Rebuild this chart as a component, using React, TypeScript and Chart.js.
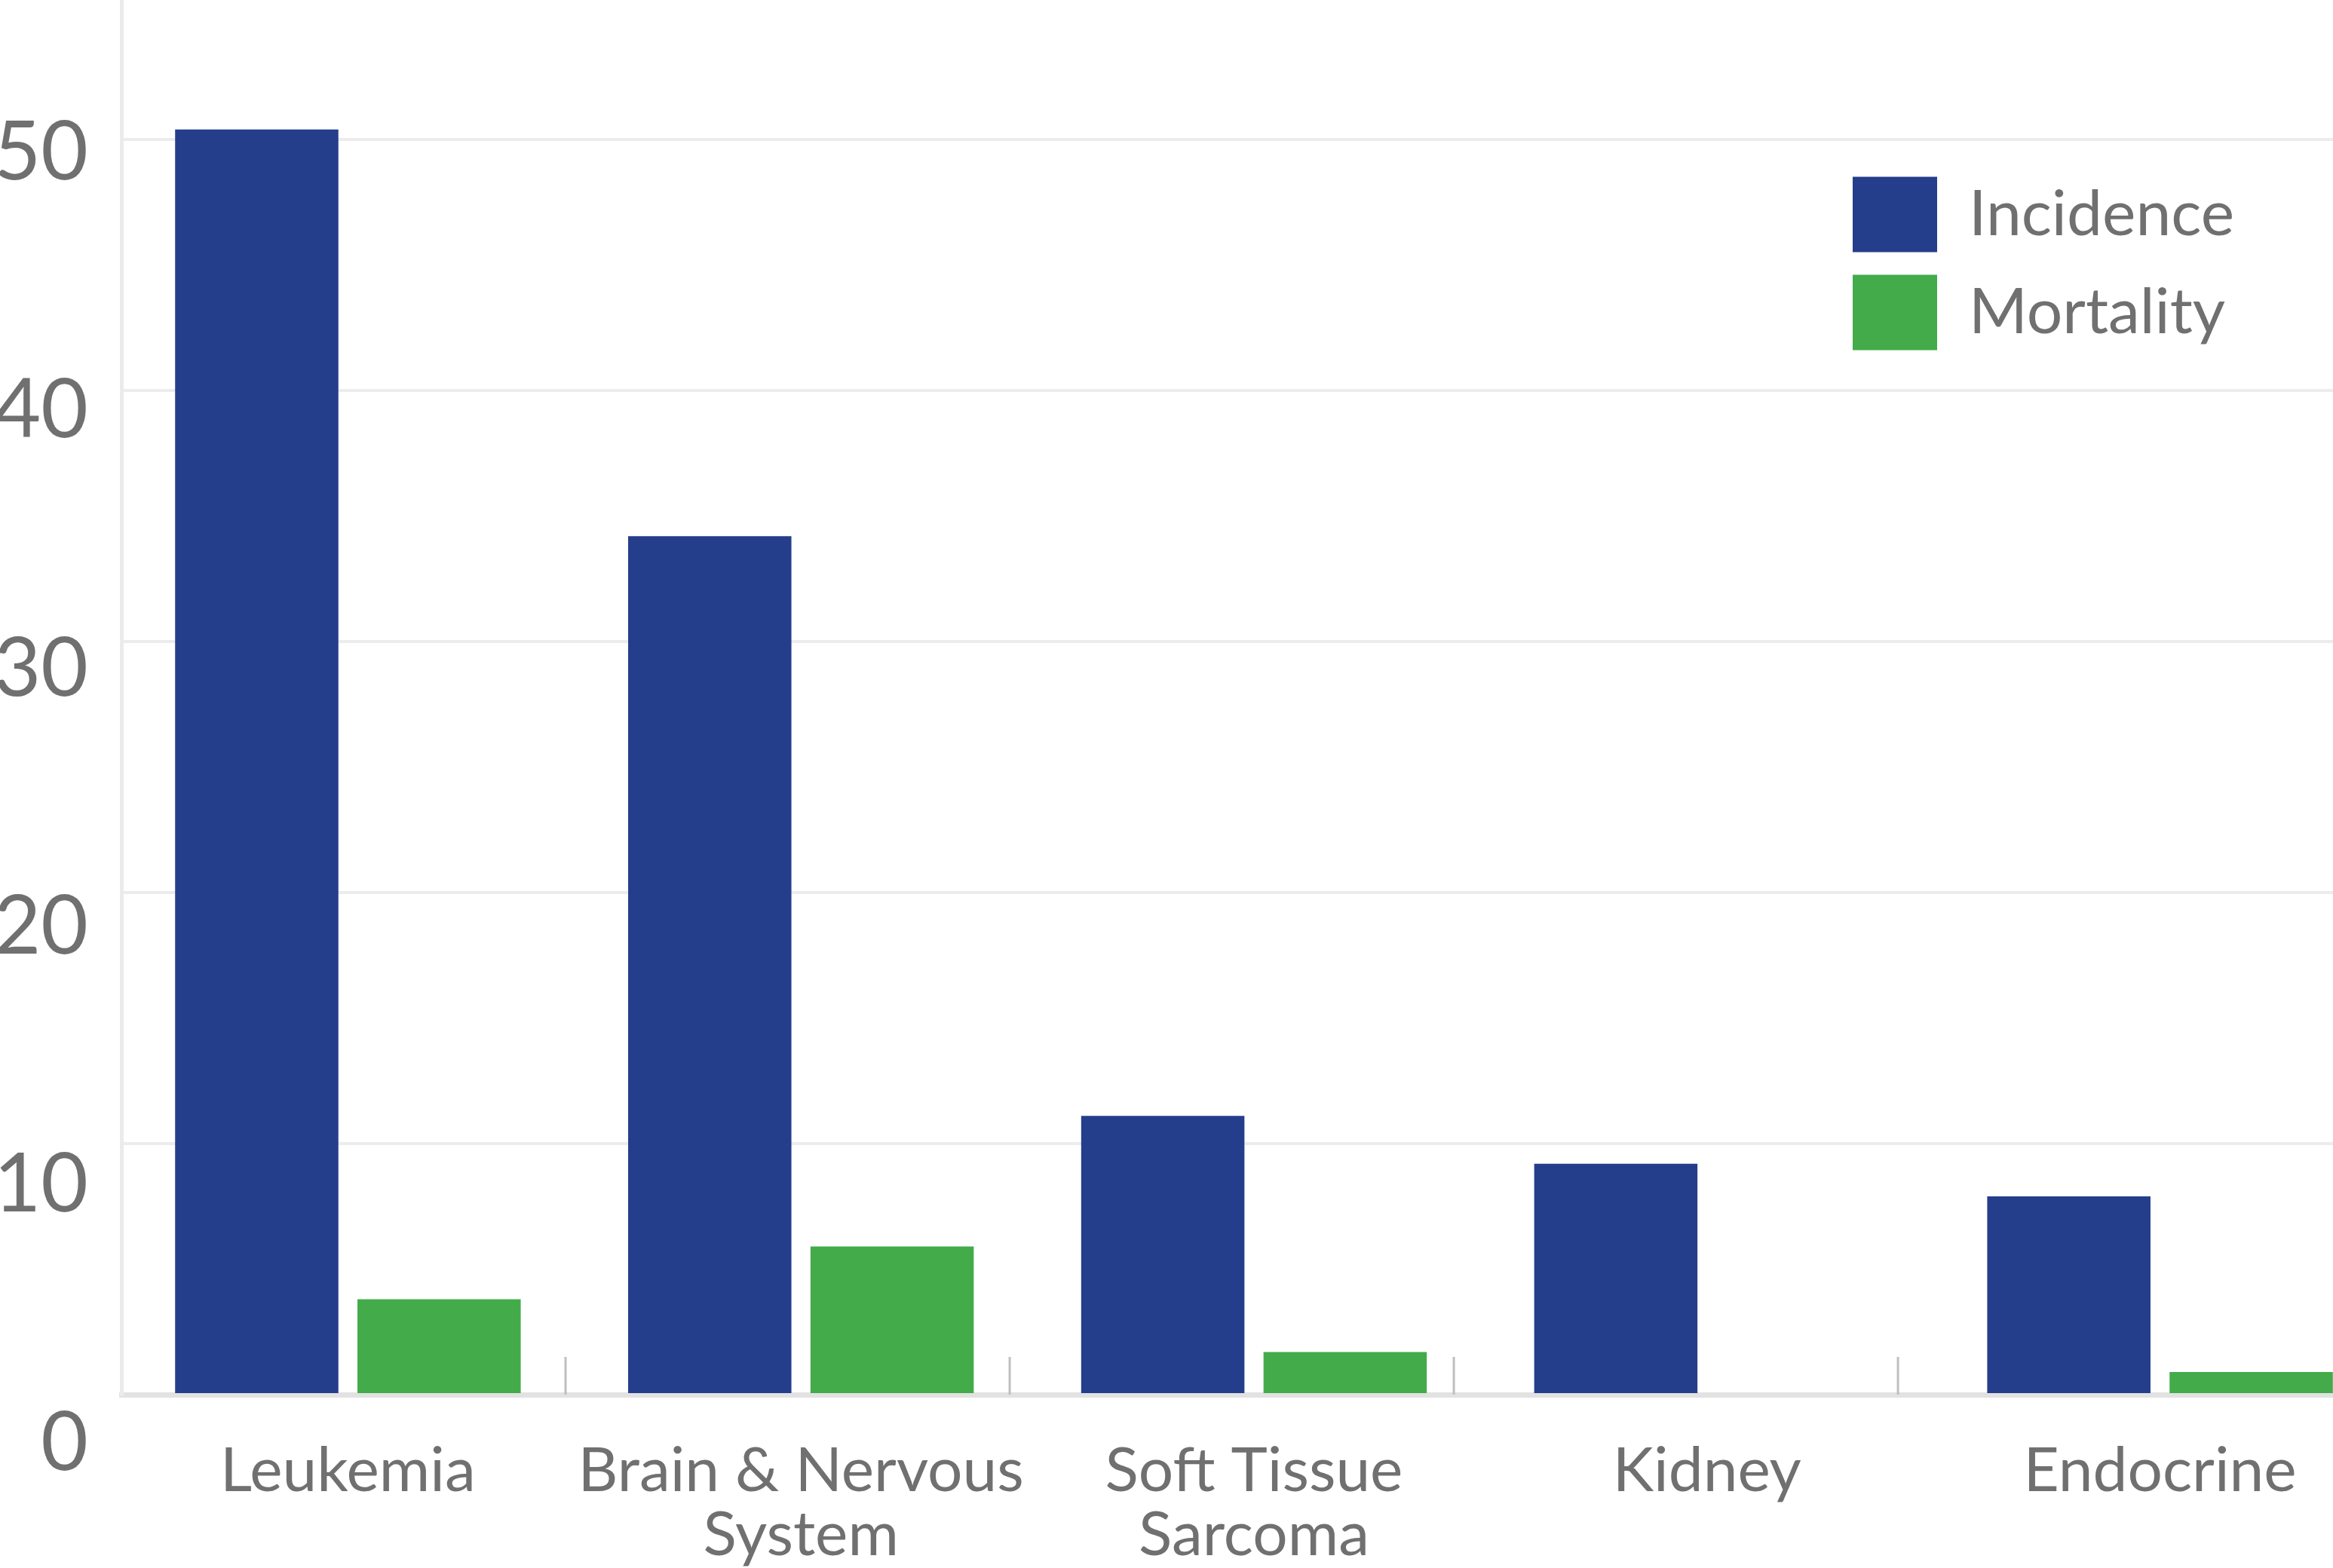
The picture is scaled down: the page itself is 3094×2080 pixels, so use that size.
import React, { useEffect, useRef } from 'react';
import { Chart, registerables } from 'chart.js';

Chart.register(...registerables);

// ---- data ----
const categories: (string | string[])[] = [
  'Leukemia',
  ['Brain & Nervous', 'System'],
  ['Soft Tissue', 'Sarcoma'],
  'Kidney',
  'Endocrine',
];
const seriesNames = ['Incidence', 'Mortality'];
const incidence = [50.4, 34.2, 11.1, 9.2, 7.9];
const mortality = [3.8, 5.9, 1.7, 0, 0.9];
const yMin = 0;
const yMax = 60;
const yStep = 10;
const separatorTicks = [1, 2, 3, 4];

// ---- styles ----
const BLUE = '#253E8B';
const GREEN = '#43AB4A';
const TEXT = '#707070';
const FONT = 'Lato';

const CANVAS_W = 3174;
const CANVAS_H = 2338;

const legendPlacer = {
  id: 'legendPlacer',
  afterLayout(chart: any) {
    const lg = chart.legend;
    if (!lg) return;
    const left = chart.chartArea.left + 2266;
    const top = chart.scales.y.getPixelForValue(50) + 19.5;
    lg.left = left;
    lg.right = left + lg.width;
    lg.top = top;
    lg.bottom = top + 1000;
  },
};

// short category separators rising from the x axis, placed with the 'xs' scale
const separatorPlugin = {
  id: 'separatorPlugin',
  beforeDatasetsDraw(chart: any) {
    const xs = chart.scales.xs;
    if (!xs) return;
    const ctx = chart.ctx;
    const bottom = chart.chartArea.bottom;
    ctx.save();
    ctx.strokeStyle = '#bfbfbf';
    ctx.lineWidth = 3;
    separatorTicks.forEach((k) => {
      const px = xs.getPixelForValue(k);
      ctx.beginPath();
      ctx.moveTo(px, bottom);
      ctx.lineTo(px, bottom - 50);
      ctx.stroke();
    });
    ctx.restore();
  },
};

export default function App() {
  const ref = useRef<HTMLCanvasElement | null>(null);

  useEffect(() => {
    if (!ref.current) return;
    const chart = new Chart(ref.current, {
      type: 'bar',
      data: {
        labels: categories,
        datasets: [
          {
            label: seriesNames[0],
            data: incidence,
            backgroundColor: BLUE,
            borderWidth: 0,
            categoryPercentage: 0.805,
            barPercentage: 0.8954,
          },
          {
            label: seriesNames[1],
            data: mortality,
            backgroundColor: GREEN,
            borderWidth: 0,
            categoryPercentage: 0.805,
            barPercentage: 0.8954,
          },
        ],
      },
      options: {
        animation: false,
        responsive: false,
        devicePixelRatio: 1,
        layout: { padding: { top: 80, left: 0, right: 0, bottom: 0 } },
        plugins: {
          title: { display: false },
          tooltip: { enabled: false },
          legend: {
            display: true,
            position: 'chartArea',
            align: 'start',
            labels: {
              boxWidth: 112,
              boxHeight: 100,
              padding: 30,
              color: TEXT,
              font: { family: FONT, size: 84 },
            },
          },
        },
        scales: {
          x: {
            type: 'category',
            position: 'bottom',
            weight: 1,
            afterFit: (s: any) => {
              s.height = 260;
            },
            grid: { display: false, drawTicks: false },
            border: { display: true, color: '#e2e2e2', width: 7 },
            ticks: {
              color: TEXT,
              font: { family: FONT, size: 82, lineHeight: '85px' },
              padding: 59,
              autoSkip: false,
              maxRotation: 0,
              minRotation: 0,
            },
          },
          xs: {
            type: 'linear',
            axis: 'x',
            position: 'bottom',
            weight: 0,
            offset: false,
            min: 0,
            max: 5.1,
            afterFit: (s: any) => {
              s.height = 0;
            },
            ticks: { display: false, stepSize: 1, includeBounds: false },
            grid: { display: false, drawTicks: false, offset: false },
            border: { display: false },
          },
          y: {
            type: 'linear',
            position: 'left',
            min: yMin,
            max: yMax,
            afterFit: (s: any) => {
              s.width = 170;
            },
            grid: { color: '#ececec', lineWidth: 4, drawTicks: false },
            border: { display: true, color: '#ebebeb', width: 5 },
            ticks: {
              stepSize: yStep,
              padding: 44,
              color: TEXT,
              callback: (v: any) => ['', String(v)],
              font: (c: any) => {
                const v = c && c.tick ? c.tick.value : 0;
                const off = Math.max(1, 65 - 0.942 * v);
                return { family: FONT, size: 108, lineHeight: `${2 * off}px` };
              },
            },
          },
        },
      },
      plugins: [legendPlacer, separatorPlugin],
    } as any);
    return () => chart.destroy();
  }, []);

  return (
    <div
      style={{
        position: 'fixed',
        left: 0,
        top: 0,
        width: '3094px',
        height: '2080px',
        overflow: 'hidden',
        background: '#ffffff',
      }}
    >
      <canvas
        ref={ref}
        width={CANVAS_W}
        height={CANVAS_H}
        style={{
          position: 'absolute',
          left: '-9px',
          top: '-228px',
          width: `${CANVAS_W}px`,
          height: `${CANVAS_H}px`,
        }}
      />
    </div>
  );
}
